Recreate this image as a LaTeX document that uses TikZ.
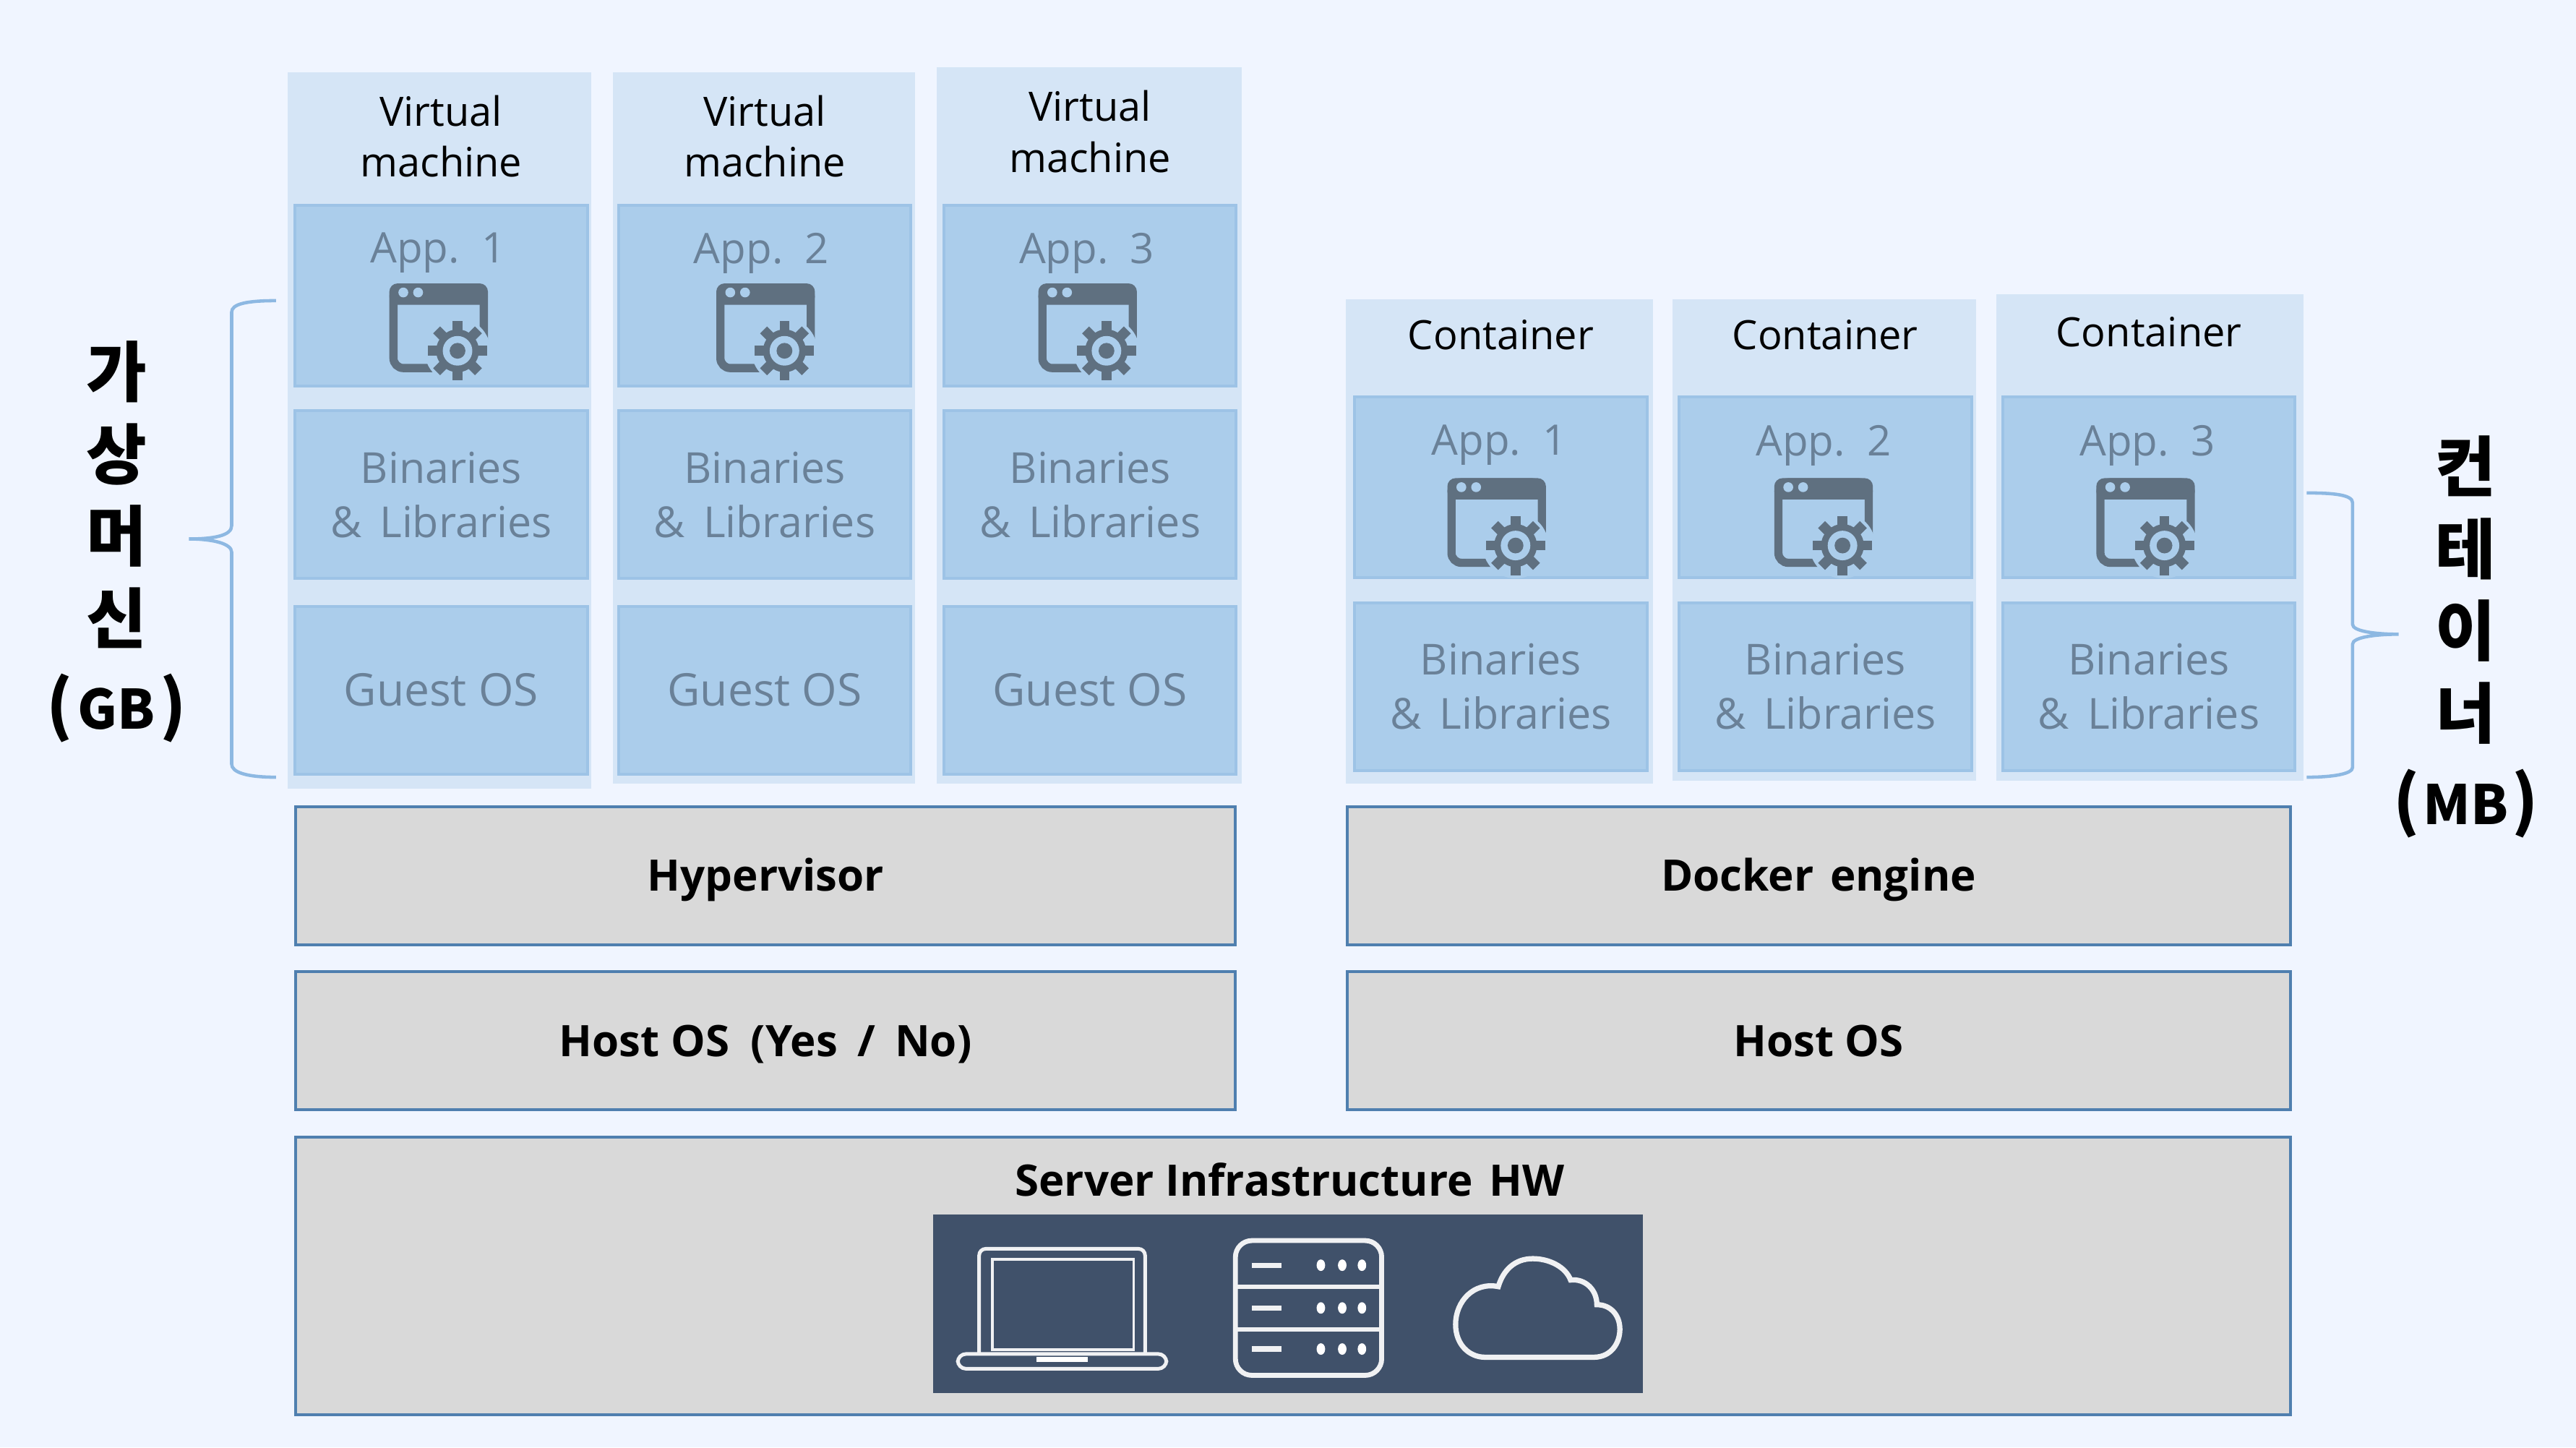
\documentclass[tikz,border=0pt]{standalone}
\usepackage{fontspec}
\setmainfont{Open Sans}
\newfontfamily\kofont{Noto Sans CJK KR}
\usetikzlibrary{positioning}
\definecolor{pagebg}{HTML}{F0F5FF}
\definecolor{panelbg}{HTML}{D5E5F6}
\definecolor{boxfill}{HTML}{ABCDEB}
\definecolor{boxline}{HTML}{9DC3E6}
\definecolor{boxtext}{HTML}{6A8198}
\definecolor{icongray}{HTML}{5F7080}
\definecolor{layerfill}{HTML}{D9D9D9}
\definecolor{layerline}{HTML}{4F7FAF}
\definecolor{darkbg}{HTML}{40516A}
\definecolor{bracecol}{HTML}{8DB8E2}
\begin{document}
\begin{tikzpicture}[
  x=0.5pt, y=-0.5pt,
  panel/.style={fill=panelbg},
  appbox/.style={draw=boxline, line width=0.9pt, fill=boxfill, minimum width=89pt, minimum height=55pt},
  binbox/.style={draw=boxline, line width=0.9pt, fill=boxfill, minimum width=89pt, minimum height=51pt, font=\fontsize{13}{16.5}\selectfont, text=boxtext, align=center},
  osbox/.style={binbox, font=\fontsize{13.7}{16.5}\selectfont},
  apptxt/.style={font=\fontsize{12.8}{15}\selectfont, text=boxtext},
  head/.style={font=\fontsize{12.3}{15.5}\selectfont, text=black, align=center},
  layer/.style={draw=layerline, line width=0.9pt, fill=layerfill, minimum height=42pt, text height=9.4pt, text depth=0pt, font=\fontsize{13.2}{15}\selectfont\bfseries},
  side/.style={font=\kofont\bfseries\fontsize{20}{25}\selectfont, align=center},
  brc/.style={draw=bracecol, line width=1pt},
  devline/.style={draw=white!92!darkbg, line width=1.1pt},
  appicon/.pic={
    \draw[icongray, line width=2.5pt, rounded corners=3pt] (2.5,2.5) rectangle (57.5,51.5);
    \fill[icongray, rounded corners=2.5pt] (0,0) rectangle (60,13);
    \fill[boxfill] (8.5,5.5) circle (3);
    \fill[boxfill] (17.5,5.5) circle (3);
    \fill[boxfill] (41.5,41) circle (20);
    \foreach \a in {0,45,...,315} { \fill[icongray, rotate around={\a:(41.5,41)}] (38.5,23) rectangle (44.5,35); }
    \fill[icongray] (41.5,41) circle (13);
    \fill[boxfill] (41.5,41) circle (9);
    \fill[icongray] (41.5,41) circle (4.8);
  }
]
\useasboundingbox (0,0) rectangle (1568,880.8);
\fill[pagebg] (0,0) rectangle (1568,880.8);
% ---- virtual machines
\foreach \xa/\ya/\xb/\yb in {175/44/360/480, 373/44/557/477, 570/41/756/477, 819/182/1006/477, 1018/182/1203/475, 1215/179/1402/475} { \fill[panel] (\xa,\ya) rectangle (\xb,\yb); }
\foreach \n/\x/\yh/\xi in {1/268.5/83/237, 2/465.5/83/436, 3/663.5/80/632} {
  \node[head] (vmhead\n) at (\x,\yh) {Virtual\\machine};
  \node[appbox] (vmapp\n) at (\x,180) {};
  \node[apptxt] (vmname\n) at (\x-2,154) {App.\ \ \n};
  \pic at (\xi,172.5) {appicon};
  \node[binbox] (vmbin\n) at (\x,301) {Binaries\\\&\hspace{5.5pt}Libraries};
  \node[osbox] (vmos\n) at (\x,420) {Guest OS};
}
% ---- containers
\foreach \n/\x/\yh/\xi in {1/913.5/204/881, 2/1111/204/1080, 3/1308/202/1276} {
  \node[head] (cthead\n) at (\x,\yh) {Container};
  \node[appbox] (ctapp\n) at (\x,296.5) {};
  \node[apptxt] (ctname\n) at (\x-1,271) {App.\ \ \n};
  \pic at (\xi,291) {appicon};
  \node[binbox] (ctbin\n) at (\x,418) {Binaries\\\&\hspace{5.5pt}Libraries};
}
% ---- lower layers
\node[layer, minimum width=286pt] (hyper) at (466,533) {Hypervisor};
\node[layer, minimum width=286pt] (hostvm) at (466,633.5) {Host OS\hspace{6.5pt}(Yes\hspace{6pt}/\hspace{6pt}No)};
\node[layer, minimum width=287pt] (docker) at (1107,533) {Docker\hspace{5pt}engine};
\node[layer, minimum width=287pt] (hostct) at (1107,633.5) {Host OS};
\node[layer, minimum width=607pt, minimum height=84.5pt] (server) at (787,776.5) {};
\node[font=\fontsize{13.2}{15}\selectfont\bfseries] (servername) at (785,718) {Server Infrastructure\hspace{5pt}HW};
\node[fill=darkbg, minimum width=216pt, minimum height=54.5pt, inner sep=0pt] (devices) at (784,793.5) {};
% ---- laptop
\draw[devline, rounded corners=2pt] (596,824) -- (596,760) -- (697,760) -- (697,824);
\draw[devline, line width=0.8pt] (604,821.5) -- (604,766.5) -- (690,766.5) -- (690,821.5) -- cycle;
\draw[devline, rounded corners=2.5pt] (583,824) rectangle (710,833);
\fill[white] (631,826) rectangle (662,829);
% ---- server
\draw[devline, line width=1.5pt, rounded corners=5pt] (752,755) rectangle (841,837);
\draw[devline, line width=1.4pt] (752,783) -- (841,783);
\draw[devline, line width=1.4pt] (752,809) -- (841,809);
\foreach \y in {770,796,821} {
  \draw[devline, line width=1.6pt] (762,\y) -- (780,\y);
  \foreach \x in {804,817,829} { \fill[white] (\x,\y) ellipse (2.6 and 3.5); }
}
% ---- cloud
\draw[devline, line width=1.6pt] (904,826) -- (970,826) .. controls (981,826) and (986,817) .. (986,809) .. controls (986,800) and (980,794) .. (972,794) .. controls (972,785) and (965,778) .. (956,779) .. controls (953,771) and (943,766) .. (933,766) .. controls (922,766) and (915,773) .. (912,783) .. controls (897,780) and (886,792) .. (886,806) .. controls (886,818) and (894,826) .. (904,826) -- cycle;
% ---- braces and side labels
\draw[brc] (168,183) .. controls (150,183) and (141,185) .. (141,190) -- (141,320) .. controls (141,326) and (130,328) .. (115,328) .. controls (130,328) and (141,331) .. (141,336) -- (141,465) .. controls (141,470) and (150,473) .. (168,473);
\draw[brc] (1404,300) .. controls (1420,300) and (1432,301) .. (1432,306) -- (1432,380) .. controls (1432,384) and (1445,386) .. (1460,386) .. controls (1445,386) and (1432,388) .. (1432,392) -- (1432,467) .. controls (1432,471) and (1420,473) .. (1404,473);
\node[side] (vmside) at (71,301) {가\\상\\머\\신};
\node[side] (gbside) at (71,431) {(\hspace{1.5pt}{\fontsize{16.5}{20}\selectfont GB}\hspace{1.5pt})};
\node[side] (ctside) at (1501,359) {컨\\테\\이\\너};
\node[side] (mbside) at (1501,489) {(\hspace{1pt}{\fontsize{16.5}{20}\selectfont MB}\hspace{1pt})};
\end{tikzpicture}
\end{document}
